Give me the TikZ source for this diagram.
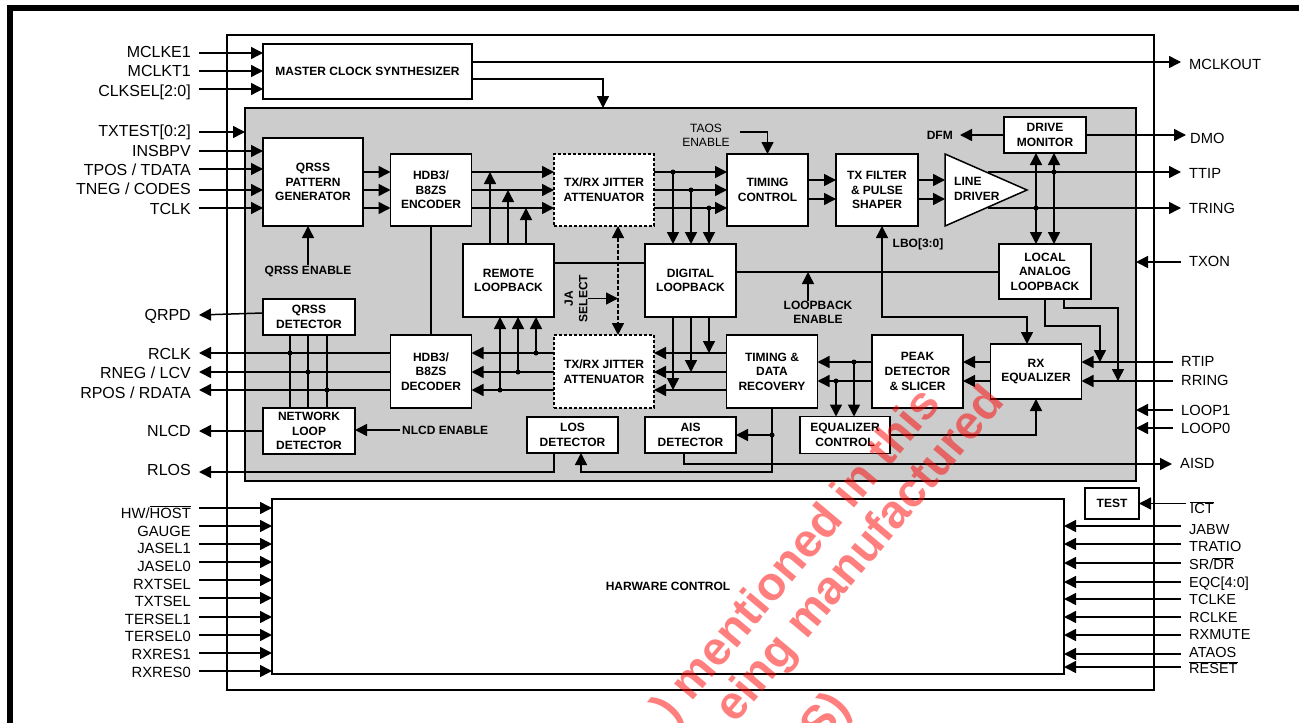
\documentclass[tikz,border=0pt]{standalone}
\usepackage{fontspec}
\setmainfont{Liberation Sans}
\usetikzlibrary{arrows.meta}
\newcommand{\ovl}[1]{$\overline{\hbox{#1}}$}
\definecolor{coregray}{HTML}{CCCCCC}
\tikzset{
  blk/.style={draw,fill=white,line width=1.5pt,outer sep=0pt,inner sep=0pt,align=center,font=\bfseries\fontsize{12}{14.6}\selectfont},
  jabox/.style={blk,dash pattern=on 3pt off 2pt},
  wire/.style={line width=1.5pt},
  sig/.style={wire,-{Triangle[length=12pt,width=12pt]}},
  sigb/.style={wire,{Triangle[length=12pt,width=12pt]}-{Triangle[length=12pt,width=12pt]}},
  jdot/.style={circle,fill=black,inner sep=0pt,minimum size=5pt},
  tag/.style={inner sep=0pt,align=center,font=\bfseries\fontsize{12}{14.6}\selectfont},
  pinl/.style={anchor=east,inner xsep=8pt,inner ysep=0pt,text height=10.8pt,text depth=0pt,font=\fontsize{#1}{17}\selectfont},
  pinr/.style={anchor=west,inner xsep=8pt,inner ysep=0pt,text height=10.8pt,text depth=0pt,font=\fontsize{#1}{17}\selectfont},
  wmark/.style={anchor=base east,rotate=50,inner sep=0pt,text=red,text opacity=.5,font=\bfseries\fontsize{47}{50}\selectfont}
}
\begin{document}
\begin{tikzpicture}[x=1pt,y=-1pt]
  \useasboundingbox (0,0) rectangle (1299,723);

  % Page frame, chip outline, shaded core
  \fill[black] (7,5) rectangle (1299,10.5);
  \fill[black] (7,5) rectangle (12.5,723);
  \node[draw,line width=1.3pt,outer sep=0pt,inner sep=0pt,minimum width=927pt,minimum height=655pt] (chip) at (690.5,362.5) {};
  \node[draw,fill=coregray,line width=1.5pt,outer sep=0pt,inner sep=0pt,minimum width=891pt,minimum height=373pt] (core) at (690.5,294.5) {};

  % Blocks
  \node[blk,minimum width=209pt,minimum height=55pt] (master) at (367.5,71.5) {MASTER CLOCK SYNTHESIZER};
  \node[blk,minimum width=100pt,minimum height=88pt] (qrssgen) at (313,182) {QRSS\\PATTERN\\GENERATOR};
  \node[blk,minimum width=81pt,minimum height=72pt] (encdr) at (431,190) {HDB3/\\B8ZS\\ENCODER};
  \node[jabox,minimum width=100pt,minimum height=72pt] (jatx) at (604,190) {TX/RX JITTER\\ATTENUATOR};
  \node[blk,minimum width=81pt,minimum height=72pt] (tctl) at (767.5,190) {TIMING\\CONTROL};
  \node[blk,minimum width=82pt,minimum height=72pt] (txflt) at (877,190) {TX FILTER\\\& PULSE\\SHAPER};
  \node[blk,minimum width=82pt,minimum height=36pt] (dmon) at (1045,135) {DRIVE\\MONITOR};
  \node[blk,minimum width=91pt,minimum height=73pt] (remote) at (508.5,280.5) {REMOTE\\LOOPBACK};
  \node[blk,minimum width=91pt,minimum height=73pt] (digital) at (690.5,280.5) {DIGITAL\\LOOPBACK};
  \node[blk,minimum width=92pt,minimum height=55pt] (local) at (1045,271.5) {LOCAL\\ANALOG\\LOOPBACK};
  \node[blk,minimum width=92pt,minimum height=36pt] (qdet) at (309,317) {QRSS\\DETECTOR};
  \node[blk,minimum width=81pt,minimum height=73pt] (decdr) at (431,371.5) {HDB3/\\B8ZS\\DECODER};
  \node[jabox,minimum width=100pt,minimum height=73pt] (jarx) at (604,371.5) {TX/RX JITTER\\ATTENUATOR};
  \node[blk,minimum width=91pt,minimum height=73pt] (tdr) at (772,371.5) {TIMING \&\\DATA\\RECOVERY};
  \node[blk,minimum width=91pt,minimum height=73pt] (peak) at (917.5,371.5) {PEAK\\DETECTOR\\\& SLICER};
  \node[blk,minimum width=91pt,minimum height=55pt] (rxeq) at (1036,371.5) {RX\\EQUALIZER};
  \node[blk,minimum width=92pt,minimum height=46pt] (nlcdet) at (309,431) {NETWORK\\LOOP\\DETECTOR};
  \node[blk,minimum width=91pt,minimum height=36pt] (los) at (572.5,435) {LOS\\DETECTOR};
  \node[blk,minimum width=91pt,minimum height=36pt] (ais) at (690.5,435) {AIS\\DETECTOR};
  \node[blk,minimum width=90pt,minimum height=37pt] (eqc) at (845,435) {EQUALIZER\\CONTROL};
  \node[blk,minimum width=792pt,minimum height=175pt] (hwctl) at (668,586.5) {HARWARE CONTROL};
  \node[blk,minimum width=54pt,minimum height=31pt] (test) at (1112,503.5) {TEST};

  % Line driver triangle
  \draw[wire,fill=white] (945,154) -- (945,226) -- (1027,190) -- cycle;
  \coordinate (ldin) at (945,190);
  \coordinate (ldoa) at (988,172);
  \coordinate (ldob) at (988,208);
  \node[tag,anchor=west,align=left] (ldtxt) at (954,189) {LINE\\DRIVER};

  % Rows and columns the buses run on
  \foreach \nm/\yy in {txa/172,txb/190,txc/208,fla/180,flb/199,rxa/353,rxb/372,rxc/390,eqa/362,eqb/381,
                       dgl/263,anl/272,lbr/317,aisr/464,losr/472,mqr/79,anra/326,anrb/308}
    \coordinate (\nm) at (0,\yy);
  \foreach \nm/\xx in {rua/490,rub/508,ruc/526,rda/500,rdb/518,rdc/536,dca/673,dcb/691,dcc/709,
                       dta/290,dtb/308,dtc/327,mona/1036,monb/1054,eqca/836,eqcb/854,
                       lbx/882,rxin/1027,ena/808,jsel/618,mqc/603,losin/581,aisout/684,losout/554,anla/1045,anlb/1064,anlc/1100,anld/1118}
    \coordinate (\nm) at (\xx,0);

  % Pins on the left
  \foreach \nm/\txt/\ry/\ty in {mclke/MCLKE1/53/52,mclkt/MCLKT1/71/71,clks/{CLKSEL[2:0]}/89/91,
      txtest/{TXTEST[0:2]}/132/131,insb/INSBPV/151/151,tpos/{TPOS / TDATA}/169/170,tneg/{TNEG / CODES}/190/189,tclk/TCLK/208/209,
      qrpd/QRPD/314/315,rclk/RCLK/353/354,rneg/{RNEG / LCV}/372/373,rpos/{RPOS / RDATA}/390/393,nlcd/NLCD/431/431,rlos/RLOS/472/470}
  {
    \coordinate (\nm-r) at (0,\ry);
    \node[pinl=16] (\nm) at (199,\ty) {\txt};
  }
  \foreach \nm/\txt/\ry/\ty in {hwh/{HW/\ovl{HOST}}/508/513,gauge/GAUGE/526/531,jas1/JASEL1/544/548,jas0/JASEL0/562/566,
      rxts/RXTSEL/580/584,txts/TXTSEL/598/601,ters1/TERSEL1/617/619,ters0/TERSEL0/635/636,rxr1/RXRES1/653/654,rxr0/RXRES0/671/672}
  {
    \coordinate (\nm-r) at (0,\ry);
    \node[pinl=14.8] (\nm) at (199,\ty) {\txt};
    \draw[sig] (\nm.east |- \nm-r) -- (hwctl.west |- \nm-r);
  }

  % Pins on the right
  \foreach \nm/\txt/\lx/\ry/\ty in {mclko/MCLKOUT/1181/62/64,ttip/TTIP/1181/172/173,tring/TRING/1181/208/208,
      txon/TXON/1181/262/261,rtip/RTIP/1173/362/361,rring/RRING/1173/381/380,loopa/LOOP1/1173/410/410,loopb/LOOP0/1173/428/428,aisd/AISD/1172/464/463}
  {
    \coordinate (\nm-r) at (0,\ry);
    \node[pinr=14.7] (\nm) at (\lx,\ty) {\txt};
  }
  \node[pinr=14.7,inner xsep=4pt] (dmo) at (1186,138) {DMO};
  \node[pinr=14.7,inner xsep=4pt] (ict) at (1186,508) {\ovl{ICT}};
  \foreach \nm/\txt/\ry/\ty in {jabw/JABW/526/529,tratio/TRATIO/544/546,srdr/{SR/\ovl{DR}}/563/564,eqcp/{EQC[4:0]}/582/582,tclke/TCLKE/599/599,
      rclke/RCLKE/617/617,rxmute/RXMUTE/635/634,ataos/ATAOS/654/652,reset/\ovl{RESET}/667/668}
  {
    \coordinate (\nm-r) at (0,\ry);
    \node[pinr=14.5] (\nm) at (1181,\ty) {\txt};
    \draw[sig] (\nm.west |- \nm-r) -- (hwctl.east |- \nm-r);
  }

  % Text labels inside the core
  \node[tag] (qrsen) at (308,271) {QRSS ENABLE};
  \node[tag,anchor=west,inner xsep=2pt] (nlen) at (400,430) {NLCD ENABLE};
  \node[tag,anchor=east,inner xsep=7pt] (dfm) at (960,135) {DFM};
  \node[tag] (lbo) at (918,244) {LBO[3:0]};
  \node[tag] (lben) at (818,312.5) {LOOPBACK\\ENABLE};
  \node[tag,rotate=90] (jasl) at (576,298.5) {JA\\SELECT};
  \node[inner sep=0pt,inner xsep=10pt,align=center,font=\fontsize{12}{14.6}\selectfont] (taos) at (706,135.5) {TAOS\\ENABLE};

  % Clock and inputs
  \foreach \nm in {mclke,mclkt,clks} \draw[sig] (\nm.east |- \nm-r) -- (master.west |- \nm-r);
  \draw[sig] (txtest.east |- txtest-r) -- (core.west |- txtest-r);
  \foreach \nm in {insb,tpos,tneg,tclk} \draw[sig] (\nm.east |- \nm-r) -- (qrssgen.west |- \nm-r);
  \draw[sig] (master.east |- mclko-r) -- (mclko.west |- mclko-r);
  \draw[sig] (master.east |- mqr) -| (mqc |- core.north);
  \draw[sig] (qrsen.north) -- (qrssgen.south -| qrsen.north);

  % Transmit path
  \foreach \rw in {txa,txb,txc} {
    \draw[sig] (qrssgen.east |- \rw) -- (encdr.west |- \rw);
    \draw[sig] (encdr.east |- \rw) -- (jatx.west |- \rw);
    \draw[sig] (jatx.east |- \rw) -- (tctl.west |- \rw);
  }
  \foreach \rw in {fla,flb} {
    \draw[sig] (tctl.east |- \rw) -- (txflt.west |- \rw);
    \draw[sig] (txflt.east |- \rw) -- (ldin |- \rw);
  }
  \coordinate (taosr) at (0,132);
  \draw[sig] (taos.east |- taosr) -| (tctl.north);
  \foreach \cl/\rw in {rua/txa,rub/txb,ruc/txc} \draw[sig] (remote.north -| \cl) -- (\cl |- \rw);
  \foreach \cl/\rw in {dca/txa,dcb/txb,dcc/txc} {
    \node[jdot] (j-\cl) at (\cl |- \rw) {};
    \draw[sig] (j-\cl.center) -- (digital.north -| \cl);
  }
  \draw[wire] (encdr.south) -- (decdr.north);
  \draw[wire] (remote.east |- dgl) -- (digital.west |- dgl);
  \draw[wire] (digital.east |- anl) -- (local.west |- anl);
  \draw[sig] (ena |- lben.north) -- (ena |- anl);

  % Line outputs and monitor
  \draw[sig] (dmon.west) -- (dfm.east);
  \draw[sig] (dmon.east) -- (dmo.west |- dmon.east);
  \draw[sig] (ldoa) -- (ttip.west |- ldoa);
  \draw[sig] (ldob) -- (tring.west |- ldob);
  \node[jdot] (jmona) at (mona |- ldob) {};
  \node[jdot] (jmonb) at (monb |- ldoa) {};
  \draw[sigb] (mona |- dmon.south) -- (mona |- local.north);
  \draw[sigb] (monb |- dmon.south) -- (monb |- local.north);
  \draw[sig] (txon.west |- txon-r) -- (core.east |- txon-r);
  \draw[sigb] (lbx |- txflt.south) |- (rxin |- lbr) -- (rxin |- rxeq.north);

  % Receive path
  \draw[sig] (rtip.west |- eqa) -- (rxeq.east |- eqa);
  \draw[sig] (rring.west |- eqb) -- (rxeq.east |- eqb);
  \draw[sig] (loopa.west |- loopa-r) -- (core.east |- loopa-r);
  \draw[sig] (loopb.west |- loopb-r) -- (core.east |- loopb-r);
  \draw[sig] (anla |- local.south) |- (anlc |- anra) -- (anlc |- eqa);
  \draw[sig] (anlb |- local.south) |- (anld |- anrb) -- (anld |- eqb);
  \foreach \rw in {eqa,eqb} {
    \draw[sig] (rxeq.west |- \rw) -- (peak.east |- \rw);
    \draw[sig] (peak.west |- \rw) -- (tdr.east |- \rw);
  }
  \node[jdot] (jeqa) at (eqcb |- eqa) {};
  \node[jdot] (jeqb) at (eqca |- eqb) {};
  \draw[sig] (jeqa.center) -- (eqc.north -| eqcb);
  \draw[sig] (jeqb.center) -- (eqc.north -| eqca);
  \draw[sig] (eqc.east) -| (rxeq.south);
  \foreach \rw in {rxa,rxb,rxc} {
    \draw[sig] (tdr.west |- \rw) -- (jarx.east |- \rw);
    \draw[sig] (jarx.west |- \rw) -- (decdr.east |- \rw);
  }
  \foreach \cl/\rw in {dcc/rxa,dcb/rxb,dca/rxc} \draw[sig] (digital.south -| \cl) -- (\cl |- \rw);
  \foreach \cl/\rw in {rdc/rxa,rdb/rxb,rda/rxc} {
    \node[jdot] (j-\cl) at (\cl |- \rw) {};
    \draw[sig] (j-\cl.center) -- (remote.south -| \cl);
  }
  \draw[sigb,dash pattern=on 4pt off 2pt] (jsel |- jatx.south) -- (jsel |- jarx.north);
  \draw[sig] (jasl.south) -- (jsel |- jasl.south);

  % Outputs to the left
  \foreach \nm in {rclk,rneg,rpos} \draw[sig] (decdr.west |- \nm-r) -- (\nm.east |- \nm-r);
  \foreach \cl/\rw in {dta/rxa,dtb/rxb,dtc/rxc} {
    \node[jdot] (j-\cl) at (\cl |- \rw) {};
    \draw[wire] (\cl |- qdet.south) -- (\cl |- nlcdet.north);
  }
  \coordinate (qrr) at (0,313);
  \draw[sig] (qdet.west |- qrr) -- (qrpd.east);
  \draw[sig] (nlcdet.west) -- (nlcd.east |- nlcdet.west);
  \draw[sig] (nlen.west) -- (nlcdet.east |- nlen.west);
  \draw[sig] (los.south -| losout) |- (rlos.east |- losr);
  \node[jdot] (jais) at (tdr.south |- ais.east) {};
  \draw[wire] (tdr.south) -- (jais.center);
  \draw[sig] (jais.center) -- (ais.east);
  \draw[sig] (jais.center) |- (losin |- losr) -- (losin |- los.south);
  \draw[sig] (ais.south -| aisout) |- (aisd.west |- aisr);
  \draw[sig] (ict.west |- test.east) -- (test.east);

  % Stamp across the sheet
  \node[wmark] (wma) at (942,404) {) mentioned in this};
  \node[wmark] (wmb) at (1006,402) {eing manufactured};
  \node[wmark] (wmc) at (852,708) {S)};
\end{tikzpicture}
\end{document}
